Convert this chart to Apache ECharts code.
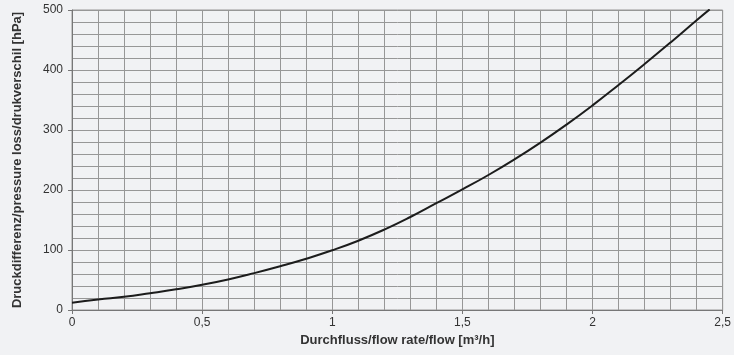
<!DOCTYPE html>
<html>
<head>
<meta charset="utf-8">
<script src="https://cdn.jsdelivr.net/npm/echarts@6/dist/echarts.min.js"></script>
<style>
html, body { margin: 0; padding: 0; background: #f1f2f4; }
#chartDiv { width: 734px; height: 355px; }
</style>
</head>
<body>
<div id="chartDiv"></div>
<script>
// Durchfluss [m3/h]
var flowValues = [0, 0.1, 0.2, 0.3, 0.4, 0.5, 0.6, 0.7, 0.8, 0.9, 1.0, 1.1, 1.2, 1.3, 1.4, 1.5, 1.6, 1.7, 1.8, 1.9, 2.0, 2.1, 2.2, 2.3, 2.4, 2.45];
// Druckdifferenz [hPa]
var pressureValues = [12, 17.5, 22, 28, 34.5, 42, 51, 61.5, 73, 85.5, 99.5, 115.5, 134, 155, 178, 201, 225, 251, 279, 309, 341, 375, 410, 446, 483, 501];
var xTicks = [0, 0.5, 1, 1.5, 2, 2.5];
var yTicks = [0, 100, 200, 300, 400, 500];

var points = [];
for (var i = 0; i < flowValues.length; i++) {
	points.push([flowValues[i], pressureValues[i]]);
}

var gridColor = '#979797';
var chart = echarts.init(document.getElementById('chartDiv'));
chart.setOption({
	backgroundColor : '#f1f2f4',
	animation : false,
	textStyle : { fontFamily : 'Liberation Sans, Arial, sans-serif' },
	grid : {
		left : 72, right : 10, top : 10, bottom : 45,
		show : true, borderColor : '#999', borderWidth : 1
	},
	xAxis : {
		type : 'value',
		min : xTicks[0], max : xTicks[xTicks.length - 1], interval : 0.5,
		name : 'Durchfluss/flow rate/flow [m³/h]',
		nameLocation : 'middle', nameGap : 18,
		nameTextStyle : { fontWeight : 'bold', fontSize : 13, color : '#333' },
		axisLine : { lineStyle : { color : '#777', width : 1 } },
		axisTick : { show : true, length : 4, lineStyle : { color : '#777' } },
		axisLabel : {
			color : '#333', fontSize : 12, margin : 7,
			formatter : function(v) { return String(v).replace('.', ','); }
		},
		splitLine : { show : true, lineStyle : { color : gridColor, width : 1 } },
		minorTick : { show : false, splitNumber : 5 },
		minorSplitLine : { show : true, lineStyle : { color : gridColor, width : 1 } }
	},
	yAxis : {
		type : 'value',
		min : yTicks[0], max : yTicks[yTicks.length - 1], interval : 100,
		name : 'Druckdifferenz/pressure loss/drukverschil [hPa]',
		nameLocation : 'middle', nameGap : 48,
		nameTextStyle : { fontWeight : 'bold', fontSize : 13, color : '#333' },
		axisLine : { show : true, lineStyle : { color : '#777', width : 1 } },
		axisTick : { show : true, length : 4, lineStyle : { color : '#777' } },
		axisLabel : { color : '#333', fontSize : 12, margin : 9 },
		splitLine : { show : true, lineStyle : { color : gridColor, width : 1 } },
		minorTick : { show : false, splitNumber : 5 },
		minorSplitLine : { show : true, lineStyle : { color : gridColor, width : 1 } }
	},
	series : [{
		type : 'line',
		data : points,
		smooth : true,
		showSymbol : false,
		clip : true,
		lineStyle : { color : '#1c1c1c', width : 2 }
	}]
});
</script>
</body>
</html>
